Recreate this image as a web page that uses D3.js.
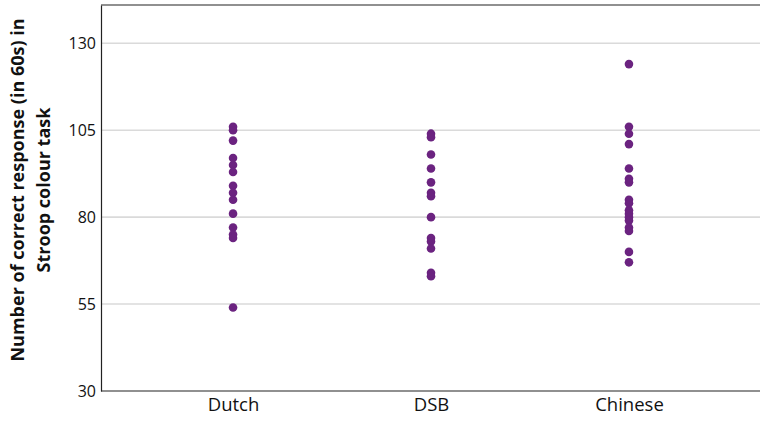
<!DOCTYPE html>
<html>
<head>
<meta charset="utf-8">
<script src="https://cdn.jsdelivr.net/npm/d3@7"></script>
<style>
  html, body { margin: 0; padding: 0; background: #fff; }
  svg { display: block; font-family: "Open Sans", "Noto Sans", sans-serif; }
</style>
</head>
<body>
<svg id="chart" width="760" height="423"></svg>
<script>
// Groups and their correct-response counts (Stroop colour task, 60 s)
const categories = ["Dutch", "DSB", "Chinese"];
const dutchValues = [106, 105, 102, 97, 95, 93, 89, 87, 85, 81, 77, 75, 74, 54];
const dsbValues = [104, 103, 98, 94, 90, 87, 86, 80, 74, 73, 71, 64, 63];
const chineseValues = [124, 106, 104, 101, 94, 91, 90, 85, 84, 82, 81, 80, 79, 77, 76, 70, 67];
const yTicks = [30, 55, 80, 105, 130];
const yLabelLines = ["Number of correct response (in 60s) in", "Stroop colour task"];

const seriesByGroup = [dutchValues, dsbValues, chineseValues];
const points = [];
categories.forEach((c, i) => seriesByGroup[i].forEach(v => points.push({ group: c, value: v })));

const svg = d3.select("#chart");
const plotLeft = 101, plotRight = 761, plotTop = 5, plotBottom = 391;

const x = d3.scalePoint().domain(categories).range([plotLeft, plotRight]).padding(0.667);
const y = d3.scaleLinear().domain([30, 141]).range([plotBottom, plotTop]);

// horizontal gridlines
svg.append("g")
  .selectAll("line")
  .data(yTicks.filter(t => t > 30))
  .join("line")
  .attr("x1", plotLeft).attr("x2", 760)
  .attr("y1", d => y(d)).attr("y2", d => y(d))
  .attr("stroke", "#dadada").attr("stroke-width", 1.6);

// y axis
const yAxis = svg.append("g")
  .attr("transform", `translate(${plotLeft},0)`)
  .call(d3.axisLeft(y).tickValues(yTicks).tickSize(0).tickPadding(5));
yAxis.select(".domain").attr("stroke", "#222").attr("stroke-width", 1.2);
yAxis.selectAll("text").attr("font-size", 16).attr("fill", "#111")
  .attr("font-family", "'Open Sans', sans-serif");

// x axis
const xAxis = svg.append("g")
  .attr("transform", `translate(0,${plotBottom})`)
  .call(d3.axisBottom(x).tickSize(0).tickPadding(7));
xAxis.select(".domain").attr("stroke", "#222").attr("stroke-width", 1.2)
  .attr("d", `M${plotLeft},0H760`);
xAxis.selectAll("text").attr("font-size", 18.5).attr("fill", "#111")
  .attr("font-family", "'Open Sans', sans-serif");

// top frame line
svg.append("line")
  .attr("x1", plotLeft).attr("x2", 760).attr("y1", plotTop).attr("y2", plotTop)
  .attr("stroke", "#222").attr("stroke-width", 1.2);

// points
svg.append("g")
  .selectAll("circle")
  .data(points)
  .join("circle")
  .attr("cx", d => x(d.group))
  .attr("cy", d => y(d.value))
  .attr("r", 4.3)
  .attr("fill", "#6b2380");

// y axis title
const title = svg.append("text")
  .attr("transform", "translate(0,190) rotate(-90)")
  .attr("text-anchor", "middle")
  .attr("font-size", 18)
  .attr("font-weight", 700)
  .attr("fill", "#111");
yLabelLines.forEach((line, i) => {
  title.append("tspan").attr("x", 0).attr("y", 24 + i * 26).text(line);
});
</script>
</body>
</html>
